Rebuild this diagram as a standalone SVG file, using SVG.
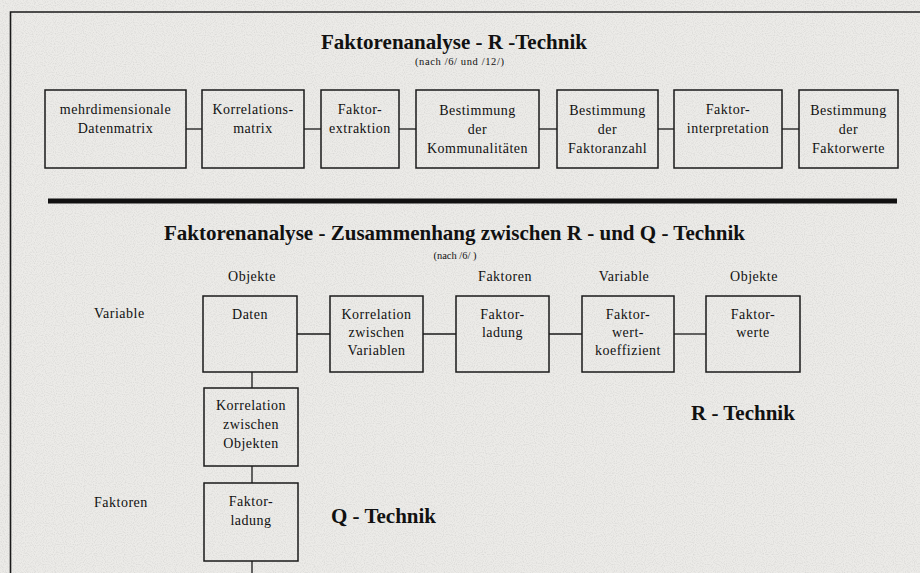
<svg xmlns="http://www.w3.org/2000/svg" width="920" height="573" viewBox="0 0 920 573">
<defs>
<style>
.bg{fill:#ecebe8}
.box{fill:none;stroke:#1a1a1a;stroke-width:1.5}
.t{font-family:"Liberation Serif","Times New Roman",serif;font-size:14px;letter-spacing:0.5px;fill:#111;text-anchor:middle}
.tl{font-family:"Liberation Serif","Times New Roman",serif;font-size:14px;letter-spacing:0.5px;fill:#111}
.h{font-family:"Liberation Serif","Times New Roman",serif;font-size:21px;font-weight:bold;fill:#111;text-anchor:middle}
.hs{font-family:"Liberation Serif","Times New Roman",serif;font-size:10.5px;fill:#111;text-anchor:middle}
.q{font-family:"Liberation Serif","Times New Roman",serif;font-size:21px;font-weight:bold;fill:#111}
.c{fill:none;stroke:#1a1a1a;stroke-width:1.3}
</style>
<filter id="grain" x="0" y="0" width="100%" height="100%">
<feTurbulence type="fractalNoise" baseFrequency="0.9" numOctaves="1" seed="3" result="n"/>
<feColorMatrix in="n" type="matrix" values="0 0 0 0 0.45  0 0 0 0 0.45  0 0 0 0 0.44  0 0 0 -2.2 1.25"/>
</filter>
</defs>
<rect class="bg" x="0" y="0" width="920" height="573"/>
<rect x="0" y="0" width="920" height="573" filter="url(#grain)" opacity="0.35"/>
<path d="M10.5,573 V12 H920" fill="none" stroke="#1a1a1a" stroke-width="1.6"/>

<text class="h" x="454" y="49" textLength="266" lengthAdjust="spacing">Faktorenanalyse - R -Technik</text>
<text class="hs" x="459.5" y="65" textLength="89" lengthAdjust="spacing">(nach /6/ und /12/)</text>
<line x1="48" y1="201" x2="897" y2="201" stroke="#111" stroke-width="5"/>
<text class="h" x="454.5" y="240" textLength="581" lengthAdjust="spacing">Faktorenanalyse - Zusammenhang zwischen R - und Q - Technik</text>
<text class="hs" x="455" y="259">(nach /6/ )</text>

<g id="connectors">
<line class="c" x1="186" y1="129" x2="202" y2="129"/>
<line class="c" x1="304" y1="129" x2="321" y2="129"/>
<line class="c" x1="399" y1="129" x2="416" y2="129"/>
<line class="c" x1="539" y1="129" x2="557" y2="129"/>
<line class="c" x1="658" y1="129" x2="674" y2="129"/>
<line class="c" x1="782" y1="129" x2="799" y2="129"/>
<line class="c" x1="297" y1="334" x2="330" y2="334"/>
<line class="c" x1="423" y1="334" x2="456" y2="334"/>
<line class="c" x1="549" y1="334" x2="582" y2="334"/>
<line class="c" x1="674" y1="334" x2="706" y2="334"/>
<line class="c" x1="252" y1="372" x2="252" y2="388"/>
<line class="c" x1="252" y1="466" x2="252" y2="483"/>
<line class="c" x1="252" y1="561" x2="252" y2="573"/>
</g>

<g id="n1"><rect class="box" x="45" y="90" width="141" height="78"/>
<text class="t" x="115.5" y="114">mehrdimensionale</text><text class="t" x="115.5" y="133">Datenmatrix</text></g>
<g id="n2"><rect class="box" x="202" y="90" width="102" height="78"/>
<text class="t" x="253" y="114">Korrelations-</text><text class="t" x="253" y="133">matrix</text></g>
<g id="n3"><rect class="box" x="321" y="90" width="78" height="78"/>
<text class="t" x="360" y="114">Faktor-</text><text class="t" x="360" y="133">extraktion</text></g>
<g id="n4"><rect class="box" x="416" y="90" width="123" height="78"/>
<text class="t" x="477.5" y="115">Bestimmung</text><text class="t" x="477.5" y="134">der</text><text class="t" x="477.5" y="153">Kommunalitäten</text></g>
<g id="n5"><rect class="box" x="557" y="90" width="101" height="78"/>
<text class="t" x="607.5" y="115">Bestimmung</text><text class="t" x="607.5" y="134">der</text><text class="t" x="607.5" y="153">Faktoranzahl</text></g>
<g id="n6"><rect class="box" x="674" y="90" width="108" height="78"/>
<text class="t" x="728" y="114">Faktor-</text><text class="t" x="728" y="133">interpretation</text></g>
<g id="n7"><rect class="box" x="799" y="90" width="99" height="78"/>
<text class="t" x="848.5" y="115">Bestimmung</text><text class="t" x="848.5" y="134">der</text><text class="t" x="848.5" y="153">Faktorwerte</text></g>

<g id="labels">
<text class="t" x="252" y="281">Objekte</text>
<text class="t" x="505" y="281">Faktoren</text>
<text class="t" x="624" y="281">Variable</text>
<text class="t" x="754" y="281">Objekte</text>
<text class="tl" x="94" y="318">Variable</text>
<text class="tl" x="94" y="507">Faktoren</text>
<text class="q" x="331" y="523">Q - Technik</text>
<text class="q" x="691" y="420">R - Technik</text>
</g>

<g id="m1"><rect class="box" x="203" y="296" width="94" height="76"/>
<text class="t" x="250" y="319">Daten</text></g>
<g id="m2"><rect class="box" x="330" y="296" width="93" height="76"/>
<text class="t" x="376.5" y="319">Korrelation</text><text class="t" x="376.5" y="337">zwischen</text><text class="t" x="376.5" y="355">Variablen</text></g>
<g id="m3"><rect class="box" x="456" y="296" width="93" height="76"/>
<text class="t" x="502.5" y="319">Faktor-</text><text class="t" x="502.5" y="337">ladung</text></g>
<g id="m4"><rect class="box" x="582" y="296" width="92" height="76"/>
<text class="t" x="628" y="319">Faktor-</text><text class="t" x="628" y="337">wert-</text><text class="t" x="628" y="355">koeffizient</text></g>
<g id="m5"><rect class="box" x="706" y="296" width="94" height="76"/>
<text class="t" x="753" y="319">Faktor-</text><text class="t" x="753" y="337">werte</text></g>
<g id="m6"><rect class="box" x="204" y="388" width="94" height="78"/>
<text class="t" x="251" y="410">Korrelation</text><text class="t" x="251" y="429">zwischen</text><text class="t" x="251" y="448">Objekten</text></g>
<g id="m7"><rect class="box" x="204" y="483" width="94" height="78"/>
<text class="t" x="251" y="506">Faktor-</text><text class="t" x="251" y="525">ladung</text></g>
</svg>
